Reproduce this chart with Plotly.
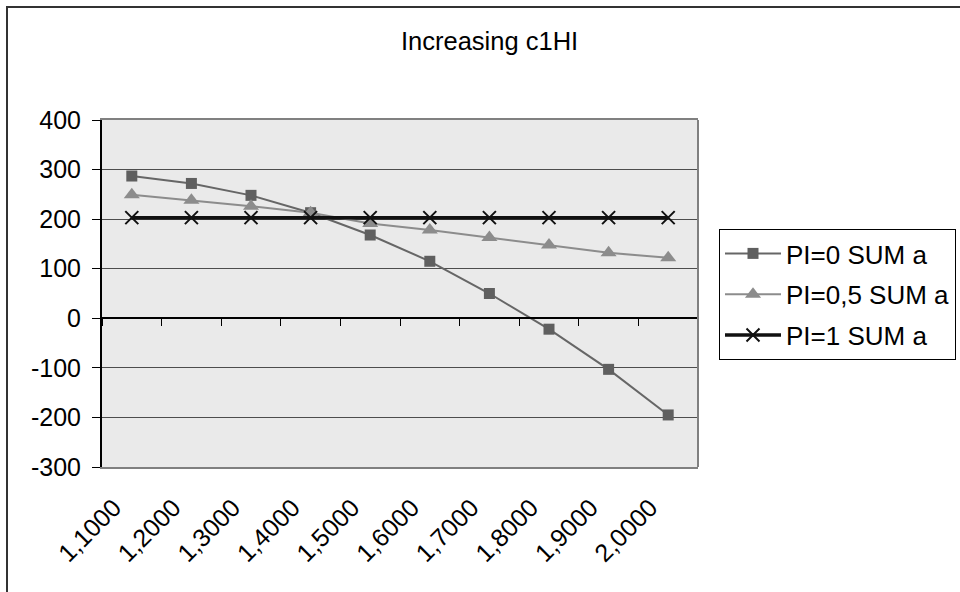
import plotly.graph_objects as go

# Category labels (decimal comma) and series values
categories = ["1,1000", "1,2000", "1,3000", "1,4000", "1,5000",
              "1,6000", "1,7000", "1,8000", "1,9000", "2,0000"]
pi0_sum_a = [287, 272, 248, 213, 168, 115, 50, -22, -103, -195]
pi05_sum_a = [249, 238, 226, 213, 191, 178, 163, 148, 132, 122]
pi1_sum_a = [203, 203, 203, 203, 203, 203, 203, 203, 203, 203]
y_ticks = [-300, -200, -100, 0, 100, 200, 300, 400]

W, H = 960, 592
L, R, T, B = 102, 698, 120, 467          # plot area in pixels
Y_MIN, Y_MAX = -300, 400
FONT = "Liberation Sans, Arial, sans-serif"

# category positions on a linear axis
pos = list(range(len(categories)))
label_pos = [p - 0.3 for p in pos]
boundaries = [p - 0.5 for p in pos] + [pos[-1] + 0.5]


def px_x(p):
    return (p - L) / (R - L)


def px_y(p):
    return 1 - (p - T) / (B - T)


fig = go.Figure()

fig.add_trace(go.Scatter(
    x=pos, y=pi0_sum_a, name="PI=0 SUM a", mode="lines+markers",
    line=dict(color="#666666", width=2),
    marker=dict(symbol="square", size=11, color="#5f5f5f"),
    legendgroup="a",
))
fig.add_trace(go.Scatter(
    x=pos, y=pi05_sum_a, name="PI=0,5 SUM a", mode="lines+markers",
    line=dict(color="#8c8c8c", width=2),
    marker=dict(symbol="triangle-up", size=14, color="#8c8c8c"),
    legendgroup="b",
))
# drawn on the overlaid axis that also carries the zero line with its ticks
fig.add_trace(go.Scatter(
    x=pos, y=pi1_sum_a, name="PI=1 SUM a", mode="lines+markers",
    line=dict(color="#111111", width=3.5),
    marker=dict(symbol="x-thin", size=13, color="#111111",
                line=dict(color="#111111", width=2)),
    xaxis="x2", legendgroup="c",
))

zero_pos = (0 - Y_MIN) / (Y_MAX - Y_MIN)
x_range = [boundaries[0], boundaries[-1]]

fig.update_layout(
    width=W, height=H,
    margin=dict(l=L, r=W - R, t=T, b=H - B, pad=0, autoexpand=False),
    paper_bgcolor="white",
    plot_bgcolor="#eaeaea",
    font=dict(family=FONT, color="black", size=25),
    showlegend=True,
    xaxis=dict(
        range=x_range, automargin=False,
        tickmode="array", tickvals=label_pos, ticktext=categories,
        showgrid=False, zeroline=False,
        showline=True, linecolor="#808080", linewidth=2, mirror=True,
        ticks="", tickangle=-45, ticklabelstandoff=14,
        tickfont=dict(size=25, family=FONT, color="black"),
    ),
    xaxis2=dict(
        range=x_range, overlaying="x", anchor="free", position=zero_pos,
        tickmode="array", tickvals=boundaries, showticklabels=False,
        showgrid=False, zeroline=False, automargin=False,
        showline=True, linecolor="black", linewidth=1.5,
        ticks="outside", ticklen=7, tickcolor="black", tickwidth=1,
    ),
    yaxis=dict(
        range=[Y_MIN, Y_MAX], automargin=False,
        tickmode="array", tickvals=y_ticks, ticktext=[str(v) for v in y_ticks],
        showgrid=True, gridcolor="#4d4d4d", gridwidth=1,
        zeroline=False,
        showline=True, linecolor="black", linewidth=2,
        ticks="outside", ticklen=8, tickcolor="black", tickwidth=1,
        ticklabelstandoff=6,
        tickfont=dict(size=25, family=FONT, color="black"),
    ),
    legend=dict(
        x=px_x(719), y=px_y(229), xanchor="left", yanchor="top",
        bordercolor="black", borderwidth=1, bgcolor="white",
        font=dict(size=26, family=FONT, color="black"),
        tracegroupgap=4, itemwidth=56,
    ),
    annotations=[dict(
        text="Increasing c1HI", xref="paper", yref="paper",
        x=px_x(490), y=px_y(41), xanchor="center", yanchor="middle",
        showarrow=False, font=dict(size=25.5, family=FONT, color="black"),
    )],
    shapes=[
        # right edge of the plot area
        dict(type="line", xref="paper", yref="paper", x0=1, x1=1, y0=0, y1=1,
             line=dict(color="#808080", width=2)),
        # chart area frame
        dict(type="rect", xref="paper", yref="paper",
             x0=px_x(7), x1=px_x(975), y0=px_y(7), y1=px_y(610),
             line=dict(color="#333333", width=2), layer="below"),
    ],
)

fig.write_html("out.html")
